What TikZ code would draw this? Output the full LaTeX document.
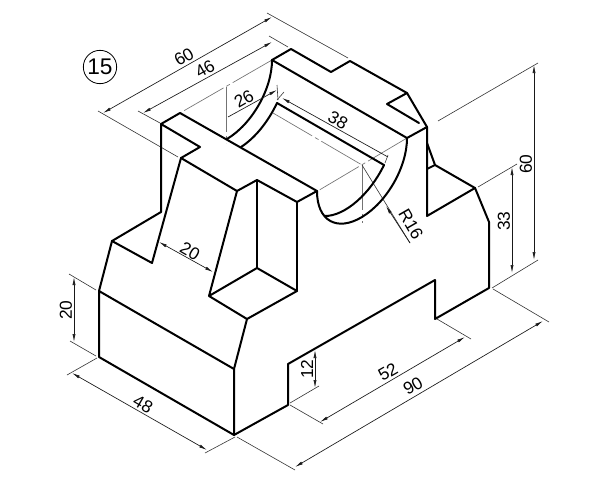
\documentclass[tikz,border=0pt]{standalone}
\usepackage{fontspec}
\setmainfont{Liberation Sans}
\usetikzlibrary{arrows.meta}
\tikzset{every picture/.style={line width=0.75pt}}
\tikzset{
  edgeline/.style={line width=1.5pt,line join=round,line cap=round},
  extline/.style={line width=0.45pt,black!80},
  dimline/.style={line width=0.5pt,black!90,{Latex[length=6pt,width=2.3pt]}-{Latex[length=6pt,width=2.3pt]}},
  axisline/.style={line width=0.5pt,black!55,dash pattern=on 34pt off 2.5pt on 3pt off 2.5pt},
  dimtext/.style={font=\fontsize{13pt}{14pt}\selectfont,inner sep=0pt}
}
\begin{document}
\begin{tikzpicture}[x=0.75pt,y=0.75pt,yscale=-1,xscale=1]
\useasboundingbox (0,0) rectangle (602,485);

%Centre lines
\draw[axisline] (272,60) -- (180,113);
\draw[axisline] (226,87) -- (226,143);
\draw[axisline] (273,113) -- (362,165);
\draw[axisline] (407,138) -- (316,192);
\draw[axisline] (362,165) -- (362,223);

%Extension lines
\draw[extline] (98,111) -- (178,157);
\draw[extline] (267,13) -- (348,58);
\draw[extline] (138,111) -- (160,123);
\draw[extline] (269,36) -- (288,47);
\draw[extline] (277,85) -- (278,100);
\draw[extline] (284,92) -- (277,100);
\draw[extline] (388,155) -- (385,163);
\draw[extline] (438,121) -- (538,63);
\draw[extline] (478,187) -- (517,164);
\draw[extline] (492,288) -- (538,260);
\draw[extline] (493,289) -- (549,322);
\draw[extline] (237,437) -- (295,470);
\draw[extline] (437,319) -- (471,339);
\draw[extline] (290,405) -- (323,424);
\draw[extline] (290,403) -- (319,386);
\draw[extline] (97,358) -- (67,375);
\draw[extline] (235,437) -- (205,453);
\draw[extline] (69,274) -- (96,290);
\draw[extline] (70,341) -- (96,356);
\draw[extline] (362,165) -- (410,243);

%Outline
\draw[edgeline] (99,291) -- (99,357) -- (234,435) -- (234,369) -- (99,291) -- (112,241) -- (161,212);
\draw[edgeline] (112,241) -- (152,263) -- (181,158) -- (200,147) -- (161,124) -- (161,212);
\draw[edgeline] (161,124) -- (180,113) -- (317,191) -- (297,202) -- (257,180) -- (237,191) -- (181,158);
\draw[edgeline] (237,191) -- (209,296) -- (257,268) -- (297,291) -- (247,319) -- (209,296);
\draw[edgeline] (257,180) -- (257,268);
\draw[edgeline] (297,202) -- (297,291);
\draw[edgeline] (247,319) -- (234,369);
\draw[edgeline] (234,435) -- (288,405) -- (288,364) -- (435,280) -- (435,319) -- (489,288) -- (489,222) -- (475,188) -- (427,216) -- (427,127) -- (407,138) -- (272,60) -- (291,49) -- (331,72) -- (350,61) -- (407,93) -- (387,104) -- (419,123);
\draw[edgeline] (407,93) -- (427,127);
\draw[edgeline] (427,143) -- (435,165) -- (475,188);
\draw[edgeline] (427,169) -- (435,165);
\draw[edgeline] (277,103) -- (384,165);

%Curved groove
\draw[edgeline] (407,138) .. controls (407,167) and (387,202) .. (362,217) .. controls (337,232) and (317,221) .. (317,191);
\draw[edgeline] (272,60) .. controls (272,89) and (252,124) .. (227,139);
\draw[edgeline] (277,103) .. controls (268,122) and (255,138) .. (241,147);
\draw[edgeline] (384,165) .. controls (370,194) and (345,216) .. (325,216);

%Dimensions
\draw[dimline] (103,113) -- (272,17);
\draw[dimline] (143,113) -- (272,42);
\draw[dimline,-{Latex[length=6pt,width=2.3pt]}] (228,117) -- (277,90);
\draw[dimline,-{Latex[length=6pt,width=2.3pt]}] (388,157) -- (282,98);
\draw[dimline] (159,242) -- (213,272);
\draw[dimline] (534,65) -- (534,260);
\draw[dimline] (512,167) -- (512,273);
\draw[dimline] (74,277) -- (74,342);
\draw[dimline] (72,373) -- (207,450);
\draw[dimline] (315,350) -- (315,388);
\draw[dimline] (320,422) -- (465,337);
\draw[dimline] (295,467) -- (543,321);
\draw[dimline,-{Latex[length=6pt,width=2.3pt]}] (410,243) -- (386,206);

%Labels
\node[draw,circle,line width=0.6pt,minimum size=25pt,inner sep=0pt,font=\fontsize{17pt}{18pt}\selectfont] (partnumber) at (100,67) {15};
\node[dimtext,rotate=30] (labelsixtya) at (184,57) {60};
\node[dimtext,rotate=30] (labelfortysix) at (205,69) {46};
\node[dimtext,rotate=30] (labeltwentysix) at (244,99) {26};
\node[dimtext,rotate=-30] (labelthirtyeight) at (338,120) {38};
\node[dimtext,rotate=-60] (labelradius) at (411,224) {R16};
\node[dimtext,rotate=90] (labelsixtyb) at (526,164) {60};
\node[dimtext,rotate=90] (labelthirtythree) at (504,221) {33};
\node[dimtext,rotate=-30] (labeltwentya) at (190,251) {20};
\node[dimtext,rotate=90] (labeltwentyb) at (66,310) {20};
\node[dimtext,rotate=-30] (labelfortyeight) at (143,404) {48};
\node[dimtext,rotate=90] (labeltwelve) at (307,369) {12};
\node[dimtext,rotate=30] (labelfiftytwo) at (388,372) {52};
\node[dimtext,rotate=30] (labelninety) at (413,386) {90};

\end{tikzpicture}
\end{document}
